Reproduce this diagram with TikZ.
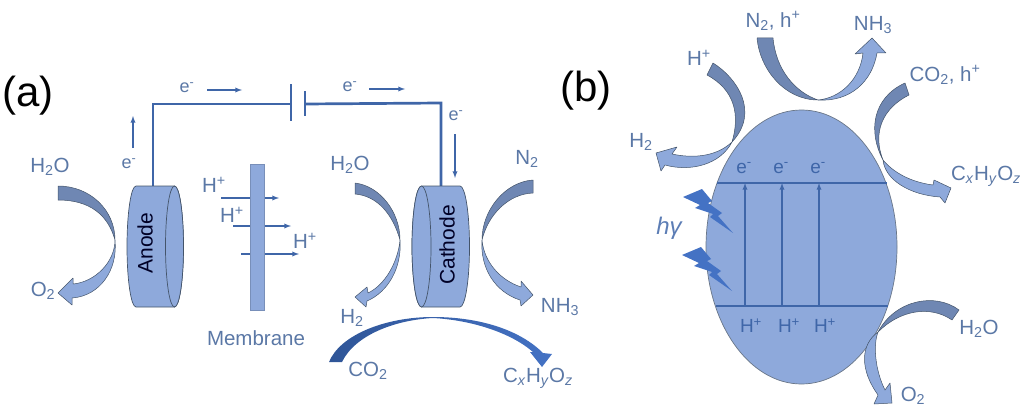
\documentclass[tikz,border=0pt]{standalone}
\usepackage{fontspec}
\setmainfont{Liberation Sans}
\definecolor{labelblue}{HTML}{5B78A6}
\definecolor{wireblue}{HTML}{3F66A8}
\definecolor{bodyblue}{HTML}{8EA9DB}
\definecolor{curldark}{HTML}{6F87B3}
\definecolor{edgeblue}{HTML}{44546A}
\definecolor{boltblue}{HTML}{4472C4}
\definecolor{bendblue}{HTML}{2F5597}
\tikzset{
  lbl/.style={text=labelblue,inner sep=0pt,font=\fontsize{20.5}{24}\selectfont},
  smalllbl/.style={text=labelblue,inner sep=0pt,font=\fontsize{18}{21}\selectfont},
  inlbl/.style={text=wireblue,inner sep=0pt,font=\fontsize{19}{22}\selectfont},
  caselbl/.style={text=black,inner sep=0pt,font=\fontsize{42}{46}\selectfont},
  namelbl/.style={text=black!85!blue,inner sep=0pt,rotate=90,font=\fontsize{21}{24}\selectfont},
  wire/.style={draw=wireblue,line width=2.7pt},
  flow/.style={draw=wireblue,line width=1.3pt,-latex},
  solid body/.style={fill=bodyblue,draw=edgeblue,line width=.7pt},
  curlin/.style={fill=curldark,draw=edgeblue,line width=.5pt,line join=round},
  curlout/.style={fill=bodyblue,draw=edgeblue,line width=.5pt,line join=round},
}
\begin{document}
\begin{tikzpicture}[x=1pt,y=-1pt]
 \useasboundingbox (0,0) rectangle (1027,412);
 % wire and battery
 \foreach \x/\y/\id in {153/186/anodetop,153/104/cornera,291/104/platea,305/104/plateb,441/103/cornerb,441/186/cathodetop,
   291/84/plateatop,291/121/plateabot,305/91/platebtop,305/116/platebbot}{
  \coordinate (\id) at (\x,\y);}
 \draw[wire,line join=miter] (anodetop) -- (cornera) -- (platea);
 \draw[wire,line join=miter] (plateb) -- (cornerb) -- (cathodetop);
 \draw[wire] (plateatop) -- (plateabot);
 \draw[wire] (platebtop) -- (platebbot);
 % electrodes
 \draw[solid body] (136,186) arc[start angle=270,end angle=90,x radius=9,y radius=60.5]
   -- (174.5,307) arc[start angle=90,end angle=-90,x radius=9,y radius=60.5] -- cycle;
 \draw[solid body] (174.5,246.5) ellipse (9 and 60.5);
 \draw[solid body] (421.5,186) arc[start angle=270,end angle=90,x radius=9.5,y radius=60.5]
   -- (460,307) arc[start angle=90,end angle=-90,x radius=9.5,y radius=60.5] -- cycle;
 \draw[solid body] (421.5,246.5) ellipse (9.5 and 60.5);
 \node[namelbl] (anode) at (145,243) {Anode};
 \node[namelbl] (cathode) at (447,245) {Cathode};
 % membrane and proton arrows
 \foreach \x/\y/\xx/\id in {221/198/279/pa,233/226/291/pb,241/254/299/pc}{
  \coordinate (\id s) at (\x,\y);
  \coordinate (\id e) at (\xx,\y);
  \draw[flow] (\id s) -- (\id e);}
 \draw[solid body,draw=bodyblue!70!edgeblue] (250,164) rectangle (264,310);
 % electron arrows
 \foreach \x/\y/\xx/\yy/\id in {207/90/242/90/ea,369/89/405/89/eb,133/148/133/116/ec,455/134/455/178/ed}{
  \coordinate (\id s) at (\x,\y);
  \coordinate (\id e) at (\xx,\yy);
  \draw[flow] (\id s) -- (\id e);}
 % curls of (a)
 \draw[curlin] (58,186) .. controls (90,186) and (115,210) .. (115,240) .. controls (108,215) and (90,200) .. (58,200) -- cycle;
 \draw[curlout] (115,240) .. controls (115,262) and (95,282) .. (73,284) -- (73,278) -- (58,293) -- (72,305) -- (72,298)
   .. controls (100,296) and (118,270) .. (115,240) -- cycle;
 \draw[curlin] (355,183) .. controls (380,186) and (400,212) .. (400,240) .. controls (393,215) and (378,196) .. (355,194) -- cycle;
 \draw[curlout] (400,240) .. controls (398,262) and (385,285) .. (368,293) -- (367,287) -- (355,297) -- (366,307) -- (367,301)
   .. controls (388,292) and (402,268) .. (400,240) -- cycle;
 \draw[curlin] (533,180) .. controls (505,182) and (482,210) .. (482,240) .. controls (488,215) and (508,194) .. (533,193) -- cycle;
 \draw[curlout] (482,240) .. controls (484,262) and (500,280) .. (521,287) -- (521,281) -- (533,295) -- (521,306) -- (520,300)
   .. controls (495,292) and (480,268) .. (482,240) -- cycle;
 \shade[left color=bendblue,right color=boltblue] (329,362) .. controls (340,335) and (385,317) .. (433,317)
   .. controls (480,317) and (520,330) .. (543,353) -- (552,354) -- (542,367) -- (530,352) -- (533,352)
   .. controls (510,332) and (470,320) .. (433,318) .. controls (395,320) and (355,335) .. (342,362) -- cycle;
 % particle of (b)
 \draw[fill=bodyblue,draw=edgeblue!80,line width=.7pt] (801.5,247) ellipse (95.5 and 137);
 \foreach \x/\y/\xx/\id in {717/183/887/lvlup,716/306/888/lvllow}{
  \coordinate (\id l) at (\x,\y);
  \coordinate (\id r) at (\xx,\y);
  \draw[draw=wireblue,line width=1.4pt] (\id l) -- (\id r);}
 \foreach \x/\id in {745/ja,782/jb,819/jc}{
  \coordinate (\id l) at (\x,306);
  \coordinate (\id u) at (\x,183);
  \draw[flow] (\id l) -- (\id u);}
 \foreach \dx/\dy in {0/0,-1/58}{
  \fill[boltblue,shift={(\dx,\dy)}] (683,197) -- (702,189) -- (712,201) -- (708,203) -- (722,213) -- (718,216) -- (733,233)
    -- (710,217) -- (713,214) -- (695,208) -- (700,205) -- cycle;}
 % curls of (b)
 \draw[curlin] (757,38) -- (773,38) .. controls (776,70) and (795,92) .. (818,100) .. controls (785,100) and (760,70) .. (757,38) -- cycle;
 \draw[curlout] (818,100) .. controls (840,98) and (860,80) .. (863,53) -- (855,54) -- (872,38) -- (886,53) -- (877,53)
   .. controls (872,82) and (850,102) .. (818,100) -- cycle;
 \draw[curlin] (713,63) .. controls (737,78) and (760,112) .. (732,142) .. controls (740,115) and (735,90) .. (707,75) -- cycle;
 \draw[curlout] (732,142) .. controls (715,158) and (690,158) .. (672,154) -- (677,147) -- (656,153) -- (661,171) -- (665,165)
   .. controls (690,172) and (720,165) .. (732,142) -- cycle;
 \draw[curlin] (905,83) -- (909,95) .. controls (883,108) and (872,132) .. (883,160) .. controls (868,132) and (872,98) .. (905,83) -- cycle;
 \draw[curlout] (883,160) .. controls (893,172) and (910,182) .. (933,185) -- (934,180) -- (951,188) -- (945,203) -- (940,197)
   .. controls (910,195) and (885,180) .. (883,160) -- cycle;
 \draw[curlin] (959,310) -- (952,320) .. controls (930,305) and (900,310) .. (878,332) .. controls (895,300) and (935,292) .. (959,310) -- cycle;
 \draw[curlout] (878,332) .. controls (873,345) and (875,370) .. (885,390) -- (890,383) -- (892,403) -- (874,404) -- (878,395)
   .. controls (860,370) and (860,345) .. (878,332) -- cycle;
 % labels
 \node[caselbl] (casea) at (28,96) {(a)};
 \node[caselbl] (caseb) at (586,91) {(b)};
 \foreach \x/\y/\txt/\id in {
   50/167/{H\textsubscript{2}O}/watera,43/291/{O\textsubscript{2}}/oxa,350/165/{H\textsubscript{2}O}/waterb,
   527/159/{N\textsubscript{2}}/nitroa,352/318/{H\textsubscript{2}}/hydroa,560/307/{NH\textsubscript{3}}/ammoa,
   368/371/{CO\textsubscript{2}}/coa,538/378/{C\textsubscript{\textit{x}}H\textsubscript{\textit{y}}O\textsubscript{\textit{z}}}/proda,
   256/338/Membrane/membrane,214/185/{H\textsuperscript{+}}/pha,232/215/{H\textsuperscript{+}}/phb,305/241/{H\textsuperscript{+}}/phc,
   773/21/{N\textsubscript{2}, h\textsuperscript{+}}/nitrob,873/25/{NH\textsubscript{3}}/ammob,699/58/{H\textsuperscript{+}}/phd,
   641/142/{H\textsubscript{2}}/hydrob,945/75/{CO\textsubscript{2}, h\textsuperscript{+}}/cob,
   986/176/{C\textsubscript{\textit{x}}H\textsubscript{\textit{y}}O\textsubscript{\textit{z}}}/prodb,
   979/329/{H\textsubscript{2}O}/waterc,913/396/{O\textsubscript{2}}/oxb}{
  \node[lbl] (\id) at (\x,\y) {\txt};}
 \foreach \x/\y/\txt/\id in {
   187/88/{e\textsuperscript{-}}/ela,350/87/{e\textsuperscript{-}}/elb,129/164/{e\textsuperscript{-}}/elc,456/116/{e\textsuperscript{-}}/eld}{
  \node[smalllbl] (\id) at (\x,\y) {\txt};}
 \foreach \x/\y/\txt/\id in {
   744/168/{e\textsuperscript{-}}/ele,781/168/{e\textsuperscript{-}}/elf,818/168/{e\textsuperscript{-}}/elg,
   751/326/{H\textsuperscript{+}}/phe,789/326/{H\textsuperscript{+}}/phf,825/326/{H\textsuperscript{+}}/phg}{
  \node[inlbl] (\id) at (\x,\y) {\txt};}
 \node[text=wireblue!85!white,inner sep=0pt,font=\fontsize{24}{27}\selectfont\itshape] (light) at (669,228) {hγ};
\end{tikzpicture}
\end{document}
